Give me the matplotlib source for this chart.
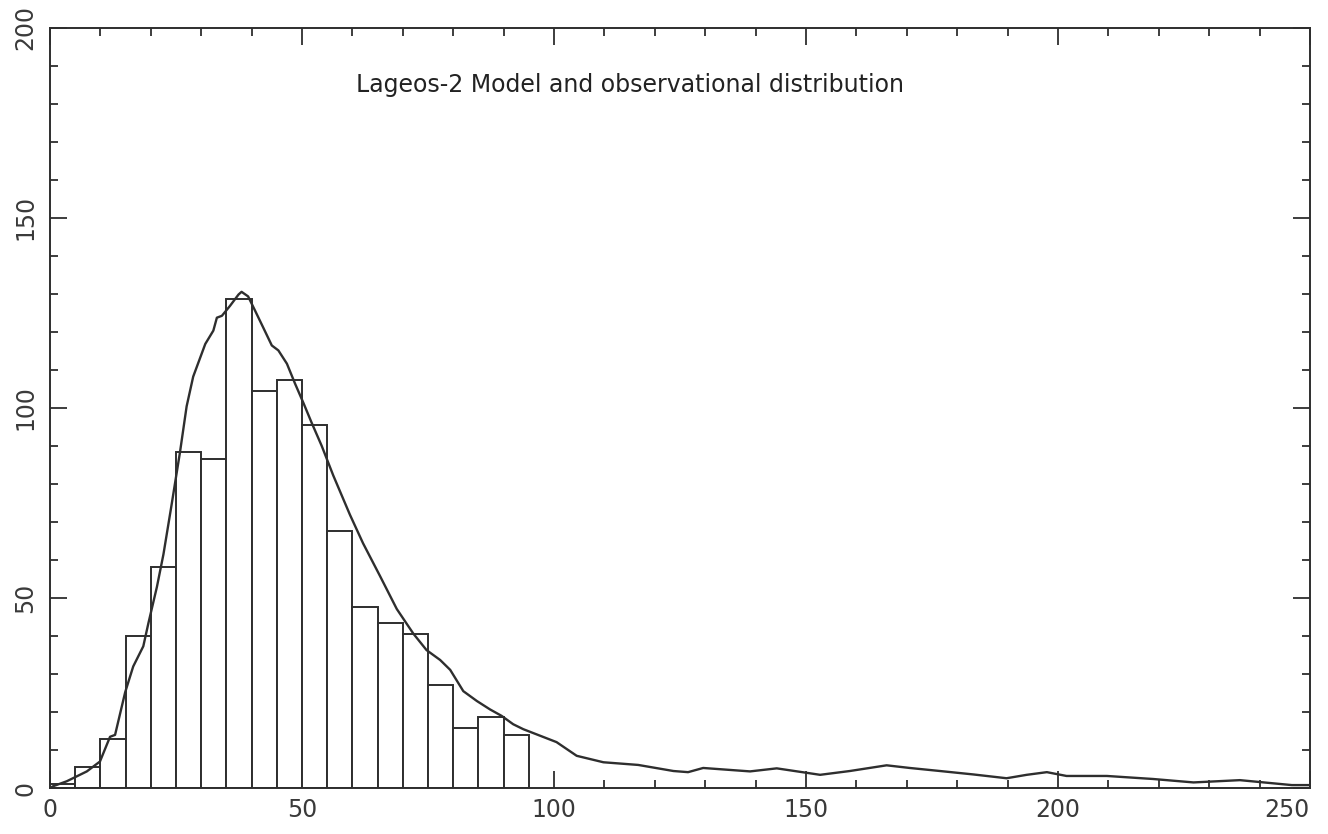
import numpy as np
import matplotlib
matplotlib.use('Agg')
import matplotlib.pyplot as plt
from matplotlib.ticker import MultipleLocator

# observed histogram, 5-unit bins starting at 0
bin_width = 5
bin_left = np.arange(0, 95, bin_width)
counts = [1, 5.6, 12.8, 40.1, 58.2, 88.5, 86.6, 128.5, 104.3, 107.4,
          95.4, 67.6, 47.5, 43.3, 40.5, 27.0, 15.8, 18.8, 14.0]

# model distribution curve
model_x = [0, 0.6, 3.3, 7.3, 9.9, 11.9, 12.9, 14.9, 16.5, 18.5, 19.5, 21.2,
           22.5, 24.1, 25.8, 27.1, 28.4, 30.8, 32.4, 33.1, 34.1, 35.7, 37.4,
           38.0, 39.3, 40.7, 42.3, 44.0, 45.3, 47.0, 48.6, 50.3, 51.9, 53.9,
           56.2, 59.5, 62.1, 65.5, 68.8, 72.1, 74.7, 77.4, 79.4, 82.0, 84.7,
           87.3, 89.6, 91.9, 93.9, 97.2, 100.5, 104.5, 109.8, 116.7, 123.7,
           126.6, 129.6, 138.9, 144.2, 152.8, 158.7, 166.0, 170.6, 176.6,
           183.2, 189.8, 193.8, 197.8, 201.7, 209.7, 218.9, 226.9, 236.1,
           246.4, 250]
model_y = [0, 0.5, 1.8, 4.4, 7.0, 13.5, 14.0, 25.2, 32.0, 37.3, 43.3, 52.9,
           61.5, 74.4, 88.5, 100.4, 108.2, 116.8, 120.3, 123.7, 124.2, 126.8,
           129.8, 130.5, 129.3, 125.5, 121.1, 116.4, 115.1, 111.6, 106.4,
           101.2, 96.1, 90.0, 82.2, 71.9, 64.4, 55.7, 47.1, 40.6, 36.3, 33.7,
           31.1, 25.5, 22.9, 20.7, 19.0, 16.8, 15.5, 13.8, 12.1, 8.5, 6.8,
           6.1, 4.5, 4.2, 5.3, 4.4, 5.2, 3.5, 4.5, 6.0, 5.3, 4.5, 3.6, 2.6,
           3.5, 4.2, 3.2, 3.2, 2.4, 1.5, 2.1, 0.8, 0.8]

x_ticks = [0, 50, 100, 150, 200, 250]
y_ticks = [0, 50, 100, 150, 200]
title = "Lageos-2 Model and observational distribution"

ink = '#2e2e2e'
label_ink = '#3a3a3a'
plt.rcParams['font.family'] = ['DejaVu Sans']

fig = plt.figure(figsize=(13.28, 8.34), dpi=100)
ax = fig.add_axes([0.0377, 0.055, 0.9487, 0.912])

ax.bar(bin_left, counts, width=bin_width, align='edge',
       facecolor='white', edgecolor=ink, linewidth=1.4, zorder=2)
ax.plot(model_x, model_y, color=ink, linewidth=1.7, zorder=3)

ax.set_xlim(0, 250)
ax.set_ylim(0, 200)
ax.set_xticks(x_ticks)
ax.set_yticks(y_ticks)
ax.xaxis.set_minor_locator(MultipleLocator(10))
ax.yaxis.set_minor_locator(MultipleLocator(10))
ax.tick_params(which='both', direction='in', top=True, right=True,
               color=ink, width=1.3)
ax.tick_params(which='major', length=12, labelsize=17, labelcolor=label_ink)
ax.tick_params(which='minor', length=6)
ax.tick_params(axis='x', pad=7)
ax.tick_params(axis='y', pad=9)
for lbl in ax.get_yticklabels():
    lbl.set_rotation(90)
    lbl.set_verticalalignment('center')
# keep the last x label inside the canvas
ax.get_xticklabels()[-1].set_horizontalalignment('right')
for sp in ax.spines.values():
    sp.set_color(ink)
    sp.set_linewidth(1.4)

ax.text(0.243, 0.924, title, transform=ax.transAxes, fontsize=17,
        color='#222222', ha='left', va='center')

fig.savefig('out.png', dpi=100)
